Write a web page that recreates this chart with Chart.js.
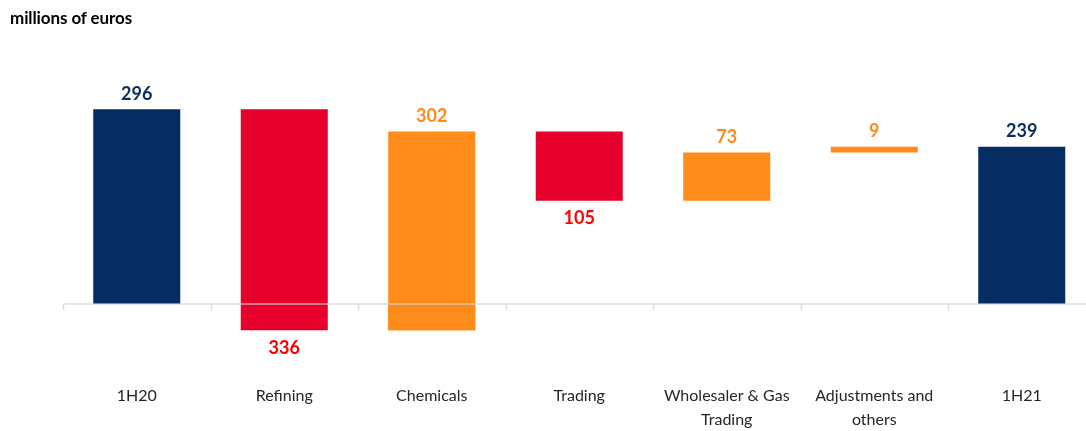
<!DOCTYPE html>
<html>
<head>
<meta charset="utf-8">
<script src="https://cdn.jsdelivr.net/npm/chart.js@4/dist/chart.umd.min.js"></script>
<style>
  html, body { margin: 0; padding: 0; background: #fff; overflow: hidden; }
  #wrap { position: relative; width: 1096px; height: 431px; overflow: hidden; }
  #unit { position: absolute; left: 10px; top: 7px; font: bold 17px Lato, sans-serif; color: #000; letter-spacing: -0.1px; }
</style>
</head>
<body>
<div id="wrap">
  <div id="unit">millions of euros</div>
  <canvas id="chart" width="1096" height="448"></canvas>
</div>
<script>
// Datos del puente 1H20 -> 1H21
const categories = ['1H20', 'Refining', 'Chemicals', 'Trading', ['Wholesaler & Gas', 'Trading'], ['Adjustments and', 'others'], '1H21'];
const values = [296, -336, 302, -105, 73, 9, 239];
const kinds = ['total', 'step', 'step', 'step', 'step', 'step', 'total'];

const NAVY = '#062D62';
const RED = '#E4002B';
const ORANGE = '#FF8C1A';
const ORANGE_NEG = '#FF8000';

// Calcular tramos flotantes
let running = 0;
const ranges = values.map((v, i) => {
    if (kinds[i] === 'total') {
        running = v;
        return [0, v];
    }
    const start = running;
    running += v;
    return [start, running];
});

// Parte bajo cero de los tramos positivos que cruzan el eje
const belowZero = ranges.map((r, i) => {
    const lo = Math.min(r[0], r[1]);
    return (kinds[i] === 'step' && values[i] > 0 && lo < 0) ? [lo, 0] : null;
});

const barColors = values.map((v, i) => kinds[i] === 'total' ? NAVY : (v < 0 ? RED : ORANGE));
const labelColors = values.map((v, i) => kinds[i] === 'total' ? '#0A2D5E' : (v < 0 ? '#FF0000' : ORANGE));

const valueLabels = {
    id: 'valueLabels',
    afterDatasetsDraw(chart) {
        const ctx = chart.ctx;
        const x = chart.scales.x;
        const y = chart.scales.y;

        // Eje en cero con marcas entre categorías
        const y0 = y.getPixelForValue(0);
        const step = x.getPixelForValue(1) - x.getPixelForValue(0);
        ctx.save();
        ctx.strokeStyle = 'rgba(210,210,210,0.75)';
        ctx.lineWidth = 1.5;
        ctx.beginPath();
        ctx.moveTo(x.left, y0);
        ctx.lineTo(x.right, y0);
        for (let i = 0; i <= categories.length; i++) {
            const px = Math.round(x.getPixelForValue(i) - step / 2) + 0.5;
            ctx.moveTo(px, y0);
            ctx.lineTo(px, y0 + 6);
        }
        ctx.stroke();

        // Etiquetas de valores
        const meta = chart.getDatasetMeta(0);
        ctx.font = 'bold 18px Lato, sans-serif';
        ctx.textAlign = 'center';
        meta.data.forEach((bar, i) => {
            const props = bar.getProps(['x', 'y', 'base'], true);
            const top = Math.min(props.y, props.base);
            const bottom = Math.max(props.y, props.base);
            ctx.fillStyle = labelColors[i];
            if (values[i] < 0) {
                ctx.textBaseline = 'top';
                ctx.fillText(String(Math.abs(values[i])), props.x, bottom + 9);
            } else {
                ctx.textBaseline = 'bottom';
                ctx.fillText(String(values[i]), props.x, top - 6);
            }
        });
        ctx.restore();
    }
};

new Chart(document.getElementById('chart').getContext('2d'), {
    type: 'bar',
    data: {
        labels: categories,
        datasets: [
            {
                data: ranges,
                backgroundColor: barColors,
                borderWidth: 0,
                categoryPercentage: 1,
                barPercentage: 0.59
            },
            {
                data: belowZero,
                backgroundColor: ORANGE_NEG,
                borderWidth: 0,
                categoryPercentage: 1,
                barPercentage: 0.59
            }
        ]
    },
    options: {
        responsive: false,
        animation: false,
        layout: { padding: { top: 73.6, left: 63, right: 0.5, bottom: 1 } },
        scales: {
            x: {
                stacked: true,
                grid: { display: false },
                border: { display: false },
                ticks: {
                    padding: 16,
                    color: '#262626',
                    maxRotation: 0,
                    autoSkip: false,
                    font: { family: 'Lato, sans-serif', size: 16, lineHeight: 1.45 }
                }
            },
            y: {
                display: false,
                min: -86,
                max: 350
            }
        },
        plugins: {
            legend: { display: false },
            tooltip: { enabled: false }
        }
    },
    plugins: [valueLabels]
});
</script>
</body>
</html>
